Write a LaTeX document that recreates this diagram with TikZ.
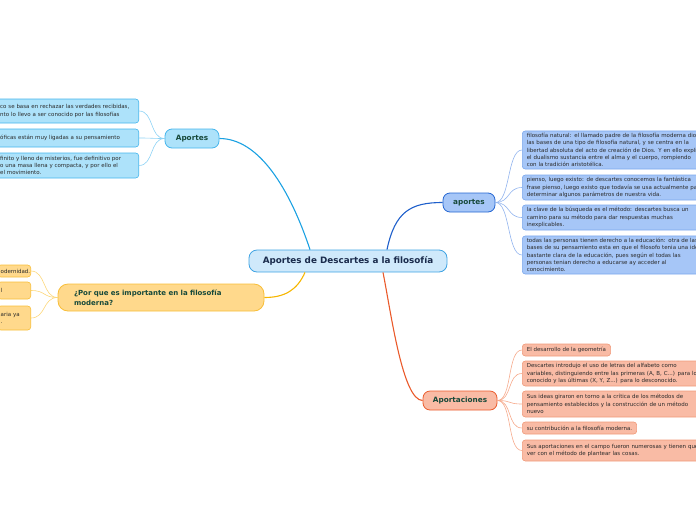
\documentclass[tikz,border=0pt]{standalone}
\usepackage{fontspec}
\setmainfont{DejaVu Sans}
\usepackage{xcolor}
\usepackage{tikz}
\usetikzlibrary{positioning}

\definecolor{rootfill}{HTML}{CFE9FB}
\definecolor{rootline}{HTML}{3FA3E3}
\definecolor{rootink}{HTML}{1A2B4C}
\definecolor{topink}{HTML}{17493A}
\definecolor{leafink}{HTML}{2A2A2A}
\definecolor{cyanfill}{HTML}{ADE2FA}
\definecolor{cyanline}{HTML}{45B5EC}
\definecolor{cyantrunk}{HTML}{1BA1E2}
\definecolor{cyantwig}{HTML}{8ED3F5}
\definecolor{bluefill}{HTML}{A6C6F7}
\definecolor{blueline}{HTML}{2466D2}
\definecolor{leafblue}{HTML}{7BA7EC}
\definecolor{bluetrunk}{HTML}{1E5FCB}
\definecolor{bluetwig}{HTML}{92B4EE}
\definecolor{yelfill}{HTML}{FFD98C}
\definecolor{yelline}{HTML}{F8BE38}
\definecolor{yeltrunk}{HTML}{F6B600}
\definecolor{yeltwig}{HTML}{FCD77A}
\definecolor{redfill}{HTML}{F9BBA5}
\definecolor{redline}{HTML}{EB5C2D}
\definecolor{leafred}{HTML}{F09A7A}
\definecolor{redtrunk}{HTML}{EA5A2B}
\definecolor{redtwig}{HTML}{F6AA8C}

\begin{document}
\begin{tikzpicture}[
  x=1pt, y=-1pt,
  rootbox/.style={rectangle, rounded corners=8pt, draw=rootline, fill=rootfill, line width=0.8pt, font=\fontsize{8.8}{10}\selectfont\bfseries, text=rootink, minimum width=198pt, minimum height=22pt, inner sep=0pt},
  topicbox/.style={rectangle, rounded corners=7pt, line width=0.8pt, font=\fontsize{7.3}{9}\selectfont\bfseries, text=topink, minimum height=19pt, inner sep=0pt},
  leaf/.style={rectangle, rounded corners=3pt, line width=0.6pt, font=\fontsize{5.5}{7.4}\selectfont, text=leafink, align=left, inner xsep=4.5pt, inner ysep=2pt},
  leafwide/.style={leaf, text width=215pt},
  trunk/.style={line width=1.1pt},
  twig/.style={line width=0.6pt},
]
\useasboundingbox (0,0) rectangle (696,520);
\clip (0,0) rectangle (696,520);

% main topic and branches
\node[rootbox] (root) at (348,261) {Aportes de Descartes a la filosofía};
\node[topicbox, draw=cyanline, fill=cyanfill, minimum width=54pt] (aportesL) at (192,138.5) {Aportes};
\node[topicbox, draw=blueline, fill=bluefill, minimum width=52pt] (aportesR) at (469,202.5) {aportes};
\node[topicbox, draw=yelline, fill=yelfill, minimum width=206pt, minimum height=27pt, rounded corners=10pt, align=left, text width=174pt, inner xsep=16pt, font=\fontsize{7}{9.5}\selectfont\bfseries] (porque) at (161,297.5) {¿Por que es importante en la filosofía\\moderna?};
\node[topicbox, draw=redline, fill=redfill, minimum width=74pt] (aportac) at (460,400.5) {Aportaciones};

% left leaves (cut by the page edge)
\node[leaf, draw=cyanline, fill=cyanfill, anchor=east, text width=134pt, minimum height=24pt] (aL1) at (139,111) {co se basa en rechazar las verdades recibidas,\\nto lo llevo a ser conocido por las filosofías};
\node[leaf, draw=cyanline, fill=cyanfill, anchor=east, text width=134pt, minimum height=18pt] (aL2) at (139,138) {óficas están muy ligadas a su pensamiento};
\node[leaf, draw=cyanline, fill=cyanfill, anchor=east, text width=134pt, minimum height=25pt] (aL3) at (139,165.5) {finito y lleno de misterios, fue definitivo por\\o una masa llena y compacta, y por ello el\\el movimiento.};

\node[leaf, draw=yelline, fill=yelfill, anchor=east, text width=27pt, inner xsep=3pt, minimum height=12pt] (pL1) at (31,271) {odernidad.};
\node[leaf, draw=yelline, fill=yelfill, anchor=east, text width=27pt, inner xsep=3pt, minimum height=17pt] (pL2) at (31,290.5) {l};
\node[leaf, draw=yelline, fill=yelfill, anchor=east, text width=27pt, inner xsep=3pt, minimum height=24pt] (pL3) at (31,318) {aria ya\\.};

% right leaves
\node[leafwide, draw=leafblue, fill=bluefill, anchor=west, minimum height=38pt] (bR1) at (522,150) {filosofía natural: el llamado padre de la filosofía moderna dio\\las bases de una tipo de filosofía natural, y se centra en la\\libertad absoluta del acto de creación de Dios. Y en ello explica\\el dualismo sustancia entre el alma y el cuerpo, rompiendo\\con la tradición aristotélica.};
\node[leafwide, draw=leafblue, fill=bluefill, anchor=west, minimum height=25pt] (bR2) at (522,187.5) {pienso, luego existo: de descartes conocemos la fantástica\\frase pienso, luego existo que todavía se usa actualmente para\\determinar algunos parámetros de nuestra vida.};
\node[leafwide, draw=leafblue, fill=bluefill, anchor=west, minimum height=25pt] (bR3) at (522,217.5) {la clave de la búsqueda es el método: descartes busca un\\camino para su método para dar respuestas muchas\\inexplicables.};
\node[leafwide, draw=leafblue, fill=bluefill, anchor=west, minimum height=38pt] (bR4) at (522,255) {todas las personas tienen derecho a la educación: otra de las\\bases de su pensamiento esta en que el filosofo tenia una idea\\bastante clara de la educación, pues según el todas las\\personas tenian derecho a educarse ay acceder al\\conocimiento.};

\node[leaf, draw=leafred, fill=redfill, anchor=west, minimum height=12pt] (rR1) at (522,350) {El desarrollo de la geometría};
\node[leafwide, draw=leafred, fill=redfill, anchor=west, minimum height=25pt] (rR2) at (522,373.5) {Descartes introdujo el uso de letras del alfabeto como\\variables, distinguiendo entre las primeras (A, B, C...) para lo\\conocido y las últimas (X, Y, Z...) para lo desconocido.};
\node[leafwide, draw=leafred, fill=redfill, anchor=west, minimum height=26pt] (rR3) at (522,404) {Sus ideas giraron en torno a la crítica de los métodos de\\pensamiento establecidos y la construcción de un método\\nuevo};
\node[leaf, draw=leafred, fill=redfill, anchor=west, minimum height=12pt] (rR4) at (522,428) {su contribución a la filosofía moderna.};
\node[leafwide, draw=leafred, fill=redfill, anchor=west, minimum height=21pt] (rR5) at (522,450.5) {Sus aportaciones en el campo fueron numerosas y tienen que\\ver con el método de plantear las cosas.};

% trunks
\draw[trunk, cyantrunk] ([xshift=-38pt]root.north) .. controls +(-20,-60) and +(40,0) .. (aportesL.east);
\draw[trunk, bluetrunk] ([xshift=39pt]root.north) .. controls +(8,-38) and +(-32,0) .. (aportesR.west);
\draw[trunk, yeltrunk] ([xshift=-43pt]root.south) .. controls +(-8,18) and +(20,0) .. (porque.east);
\draw[trunk, redtrunk] ([xshift=35pt]root.south) .. controls +(8,40) and +(-20,0) .. (aportac.west);

% twigs
\draw[twig, cyantwig] (aportesL.west) .. controls +(-15,0) and +(15,0) .. (aL1.east);
\draw[twig, cyantwig] (aportesL.west) .. controls +(-15,0) and +(15,0) .. (aL2.east);
\draw[twig, cyantwig] (aportesL.west) .. controls +(-15,0) and +(15,0) .. (aL3.east);
\draw[twig, yeltwig] (porque.west) .. controls +(-15,0) and +(15,0) .. (pL1.east);
\draw[twig, yeltwig] (porque.west) .. controls +(-15,0) and +(15,0) .. (pL2.east);
\draw[twig, yeltwig] (porque.west) .. controls +(-15,0) and +(15,0) .. (pL3.east);
\draw[twig, bluetwig] (aportesR.east) .. controls +(15,0) and +(-15,0) .. (bR1.west);
\draw[twig, bluetwig] (aportesR.east) .. controls +(15,0) and +(-15,0) .. (bR2.west);
\draw[twig, bluetwig] (aportesR.east) .. controls +(15,0) and +(-15,0) .. (bR3.west);
\draw[twig, bluetwig] (aportesR.east) .. controls +(15,0) and +(-15,0) .. (bR4.west);
\draw[twig, redtwig] (aportac.east) .. controls +(15,0) and +(-15,0) .. (rR1.west);
\draw[twig, redtwig] (aportac.east) .. controls +(15,0) and +(-15,0) .. (rR2.west);
\draw[twig, redtwig] (aportac.east) .. controls +(15,0) and +(-15,0) .. (rR3.west);
\draw[twig, redtwig] (aportac.east) .. controls +(15,0) and +(-15,0) .. (rR4.west);
\draw[twig, redtwig] (aportac.east) .. controls +(15,0) and +(-15,0) .. (rR5.west);
\end{tikzpicture}
\end{document}
